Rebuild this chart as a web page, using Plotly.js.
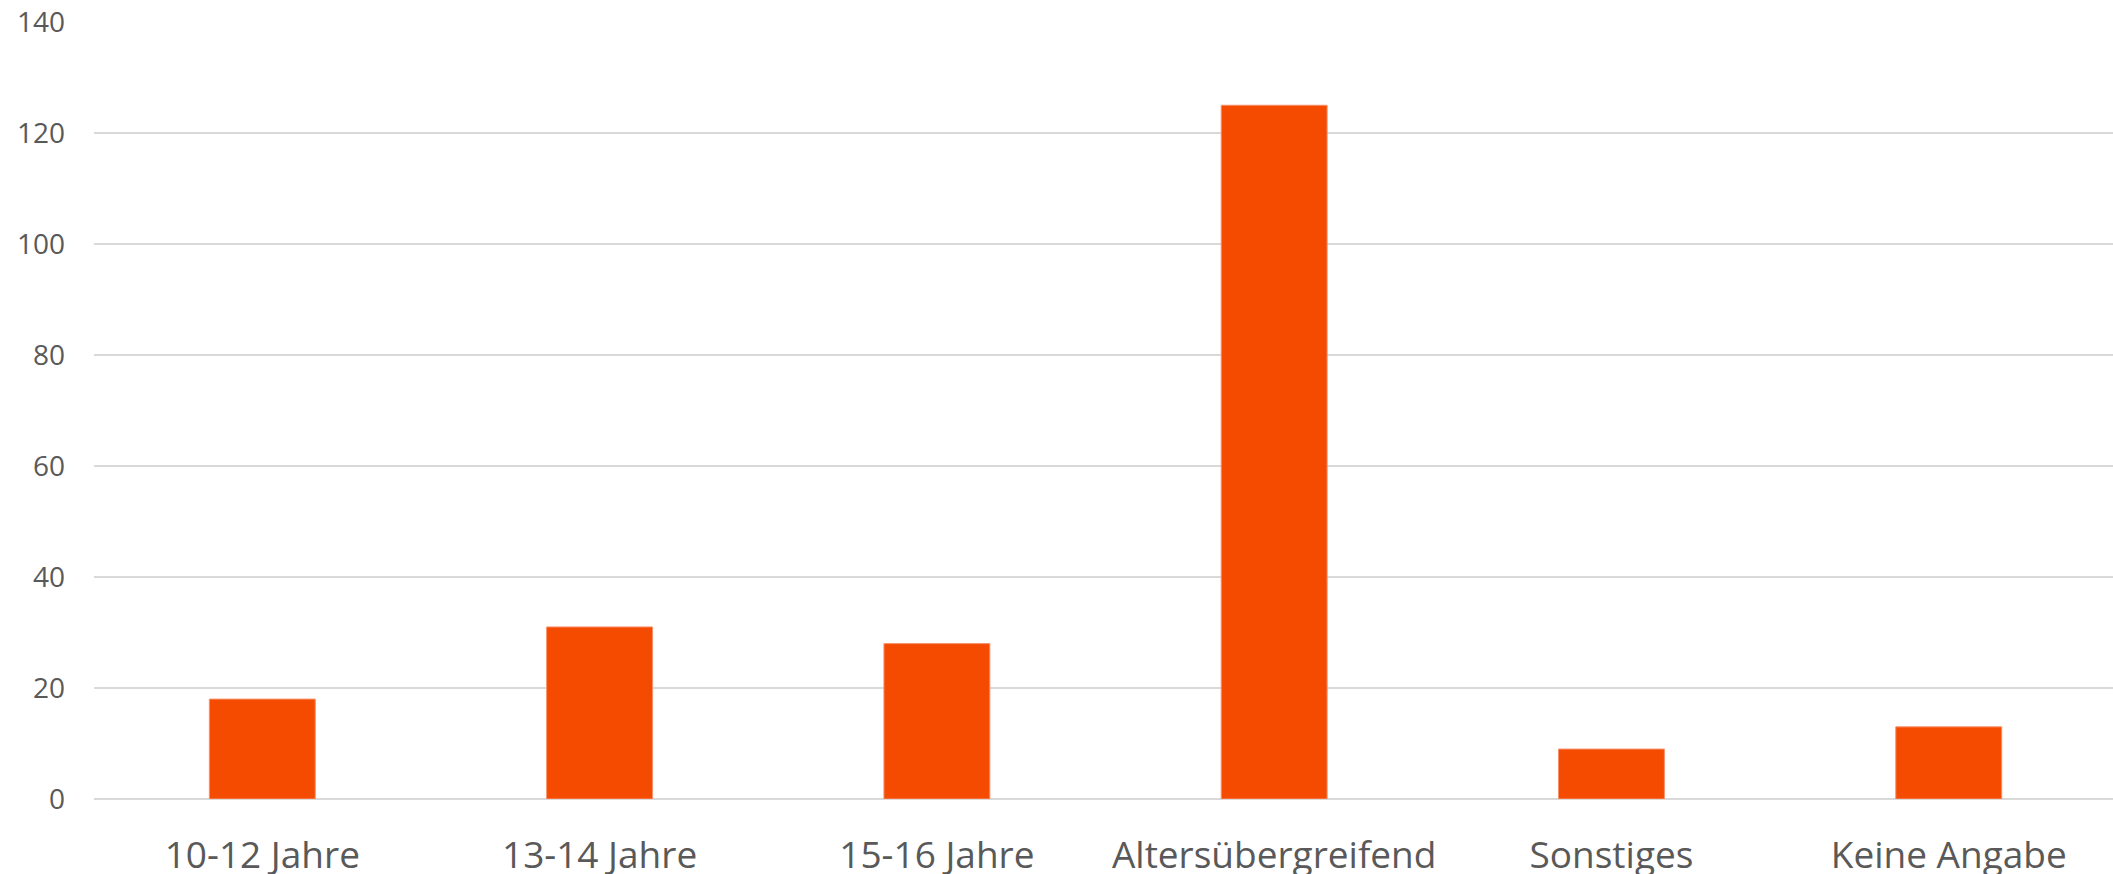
<!DOCTYPE html>
<html>
<head>
<meta charset="utf-8">
<script src="https://cdn.plot.ly/plotly-3.0.1.min.js"></script>
<style>html,body{margin:0;padding:0;background:#fff;}#chart{width:2113px;height:874px;}</style>
</head>
<body>
<div id="chart"></div>
<script>
const categories = ["10-12 Jahre", "13-14 Jahre", "15-16 Jahre", "Altersübergreifend", "Sonstiges", "Keine Angabe"];
const values = [18, 31, 28, 125, 9, 13];
const yTickValues = [0, 20, 40, 60, 80, 100, 120, 140];

const trace = {
  type: "bar",
  x: categories,
  y: values,
  marker: { color: "#F44B00", line: { color: "#F8906A", width: 1 } },
  hoverinfo: "x+y"
};

const layout = {
  width: 2113,
  height: 874,
  margin: { l: 94, r: 0, t: 22, b: 75 },
  paper_bgcolor: "#ffffff",
  plot_bgcolor: "#ffffff",
  bargap: 0.686,
  showlegend: false,
  font: { family: "Open Sans, sans-serif", color: "#595959" },
  xaxis: {
    type: "category",
    range: [-0.499, 5.487],
    showgrid: false,
    showline: false,
    zeroline: false,
    ticks: "",
    tickfont: { size: 37, color: "#595959" },
    ticklabelstandoff: 31
  },
  yaxis: {
    range: [0, 140],
    tickmode: "array",
    tickvals: yTickValues,
    ticktext: yTickValues.map(String),
    showgrid: true,
    gridcolor: "#d9d9d9",
    gridwidth: 2,
    zeroline: true,
    zerolinecolor: "#d9d9d9",
    zerolinewidth: 2,
    showline: false,
    ticks: "",
    tickfont: { size: 28, color: "#595959" },
    ticklabelstandoff: 28
  }
};

Plotly.newPlot("chart", [trace], layout, { displayModeBar: false, staticPlot: true });
</script>
</body>
</html>
